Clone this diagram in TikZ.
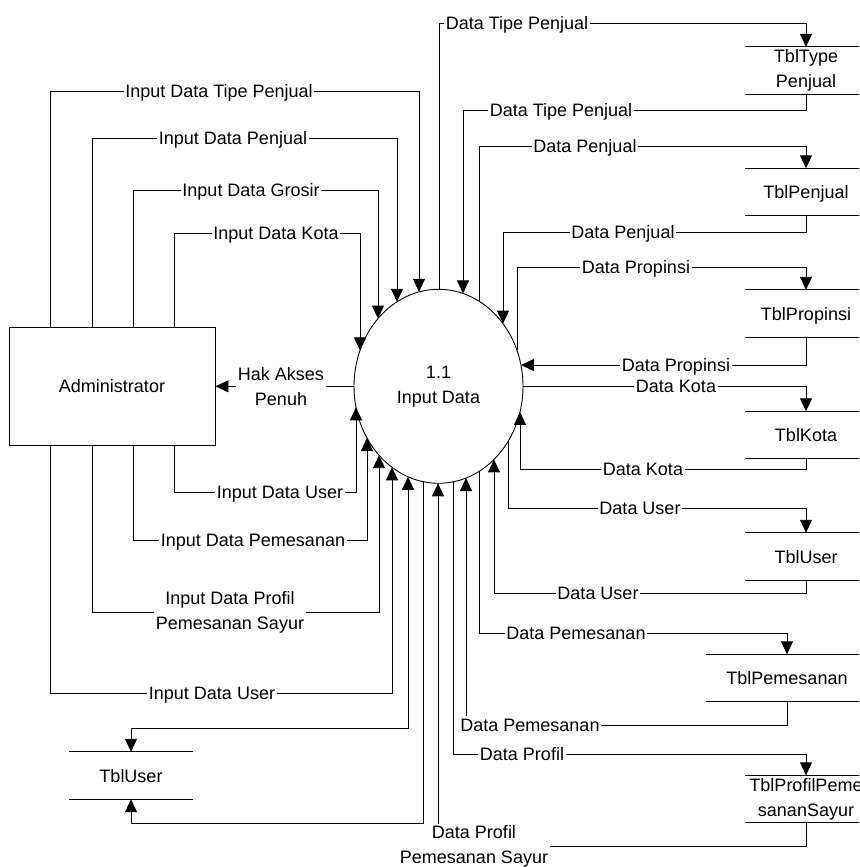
\documentclass[tikz,border=0pt]{standalone}
\usepackage{fontspec}
\setmainfont{Liberation Sans}
\usetikzlibrary{arrows.meta,shapes.geometric}

\begin{document}
\begin{tikzpicture}[x=1pt,y=-1pt,
  >={Triangle[length=13pt,width=12pt]},
  every node/.style={font=\fontsize{18}{25}\selectfont},
  flow/.style={draw=black,line width=0.9pt},
  lbl/.style={fill=white,inner xsep=1.5pt,inner ysep=1pt,text height=13pt,text depth=0pt},
  lbltwo/.style={fill=white,inner xsep=1.5pt,inner ysep=1pt,align=center},
  store/.style={inner sep=0pt,minimum height=47pt,minimum width=122pt,align=center},
  storeone/.style={store,text height=13pt,text depth=0pt},
  entity/.style={draw,line width=0.9pt,minimum width=206pt,minimum height=118pt,inner sep=0pt},
  process/.style={draw,ellipse,line width=0.9pt,minimum width=169pt,minimum height=194pt,inner sep=0pt,align=center}
]
\useasboundingbox (0,0) rectangle (859,867);
\fill[white] (0,0) rectangle (859,867);
\clip (0,0) rectangle (859,867);

% external entity and process
\node[entity] (adm) at (112,386.3) {Administrator};
\node[process] (proc) at (438.5,386.3) {1.1\\Input Data};

% data stores
\node[store] (tbltype) at (806,70.5) {TblType\\Penjual};
\node[storeone] (tblpenjual) at (806,192) {TblPenjual};
\node[storeone] (tblprop) at (806,313.5) {TblPropinsi};
\node[storeone] (tblkota) at (806,435) {TblKota};
\node[storeone] (tbluser) at (806,556.5) {TblUser};
\node[storeone,minimum width=162pt] (tblpesan) at (787,678) {TblPemesanan};
\node[store] (tblprofil) at (806,799) {TblProfilPeme\\sananSayur};
\node[storeone,minimum width=124pt] (tbluserL) at (131,775.5) {TblUser};
\foreach \s in {tbltype,tblpenjual,tblprop,tblkota,tbluser,tblpesan,tblprofil,tbluserL}
  \draw[line width=0.9pt] (\s.north west) -- (\s.north east) (\s.south west) -- (\s.south east);

% ports on the upper rim of the process
\foreach \n/\x in {iKota/360,iGrosir/378,iPenjual/397,iTipe/419,oTipe/439,iTipeD/463,oPenjual/479,iPenjualD/503,oProp/517}
  \coordinate (\n) at ({\x},{386.3-97*sqrt(1-((\x-438.5)/84.5)^2)});
% ports on the lower rim of the process
\foreach \n/\x in {iUser/356,iPesan/367,iProfil/379,iUserTwo/392,oUserL/408,oUserLTwo/423,iProfilD/438,oProfil/453,iPesanD/466,oPesan/479,iUserD/494,oUser/508,iKotaD/520}
  \coordinate (\n) at ({\x},{386.3+97*sqrt(1-((\x-438.5)/84.5)^2)});
\coordinate (iProp) at ({438.5+84.5*sqrt(1-((365-386.3)/97)^2)},365);

% administrator inputs, upper side
\draw[flow,->] (50,0 |- adm.north) -- (50,91) -| (iTipe);
\draw[flow,->] (92,0 |- adm.north) -- (92,138) -| (iPenjual);
\draw[flow,->] (133,0 |- adm.north) -- (133,190) -| (iGrosir);
\draw[flow,->] (174,0 |- adm.north) -- (174,233) -| (iKota);
% administrator inputs, lower side
\draw[flow,->] (174,0 |- adm.south) -- (174,492) -| (iUser);
\draw[flow,->] (133,0 |- adm.south) -- (133,540) -| (iPesan);
\draw[flow,->] (92,0 |- adm.south) -- (92,612) -| (iProfil);
\draw[flow,->] (50,0 |- adm.south) -- (50,693) -| (iUserTwo);
% access rights back to the administrator
\draw[flow,->] (proc.west) -- (adm.east);

% user table on the left
\draw[flow,<->] (oUserL) -- (408,728) -| (tbluserL.north);
\draw[flow,->] (oUserLTwo) -- (423,823) -| (tbluserL.south);

% data stores on the right
\draw[flow,->] (oTipe) -- (439,23) -| (tbltype.north);
\draw[flow,->] (tbltype.south) -- (806,110) -| (iTipeD);
\draw[flow,->] (oPenjual) -- (479,146) -| (tblpenjual.north);
\draw[flow,->] (tblpenjual.south) -- (806,232) -| (iPenjualD);
\draw[flow,->] (oProp) -- (517,267) -| (tblprop.north);
\draw[flow,->] (tblprop.south) |- (iProp);
\draw[flow,->] (proc.east) -| (tblkota.north);
\draw[flow,->] (tblkota.south) -- (806,469) -| (iKotaD);
\draw[flow,->] (oUser) -- (508,508) -| (tbluser.north);
\draw[flow,->] (tbluser.south) -- (806,593) -| (iUserD);
\draw[flow,->] (oPesan) -- (479,633) -| (tblpesan.north);
\draw[flow,->] (tblpesan.south) -- (787,725) -| (iPesanD);
\draw[flow,->] (oProfil) -- (453,754) -| (tblprofil.north);
\draw[flow,->] (tblprofil.south) -- (806,846) -| (iProfilD);

% flow labels
\node[lbl] (l1) at (219,91) {Input Data Tipe Penjual};
\node[lbl] (l2) at (233,138) {Input Data Penjual};
\node[lbl] (l3) at (251,190) {Input Data Grosir};
\node[lbl] (l4) at (276,233) {Input Data Kota};
\node[lbl] (l5) at (280,492) {Input Data User};
\node[lbl] (l6) at (253,540) {Input Data Pemesanan};
\node[lbltwo] (l7) at (230,612) {Input Data Profil\\Pemesanan Sayur};
\node[lbl] (l8) at (212,693) {Input Data User};
\node[lbltwo] (l9) at (281,386.3) {Hak Akses\\Penuh};
\node[lbl] (r1) at (517,23) {Data Tipe Penjual};
\node[lbl] (r2) at (561,110) {Data Tipe Penjual};
\node[lbl] (r3) at (585,146) {Data Penjual};
\node[lbl] (r4) at (623,232) {Data Penjual};
\node[lbl] (r5) at (636,267) {Data Propinsi};
\node[lbl] (r6) at (676,365) {Data Propinsi};
\node[lbl] (r7) at (676,386.3) {Data Kota};
\node[lbl] (r8) at (643,469) {Data Kota};
\node[lbl] (r9) at (640,508) {Data User};
\node[lbl] (r10) at (598,593) {Data User};
\node[lbl] (r11) at (576,633) {Data Pemesanan};
\node[lbl,inner ysep=3pt] (r12) at (530,725) {Data Pemesanan};
\node[lbl] (r13) at (522,754) {Data Profil};
\node[lbltwo] (r14) at (474,846) {Data Profil\\Pemesanan Sayur};
\end{tikzpicture}
\end{document}
